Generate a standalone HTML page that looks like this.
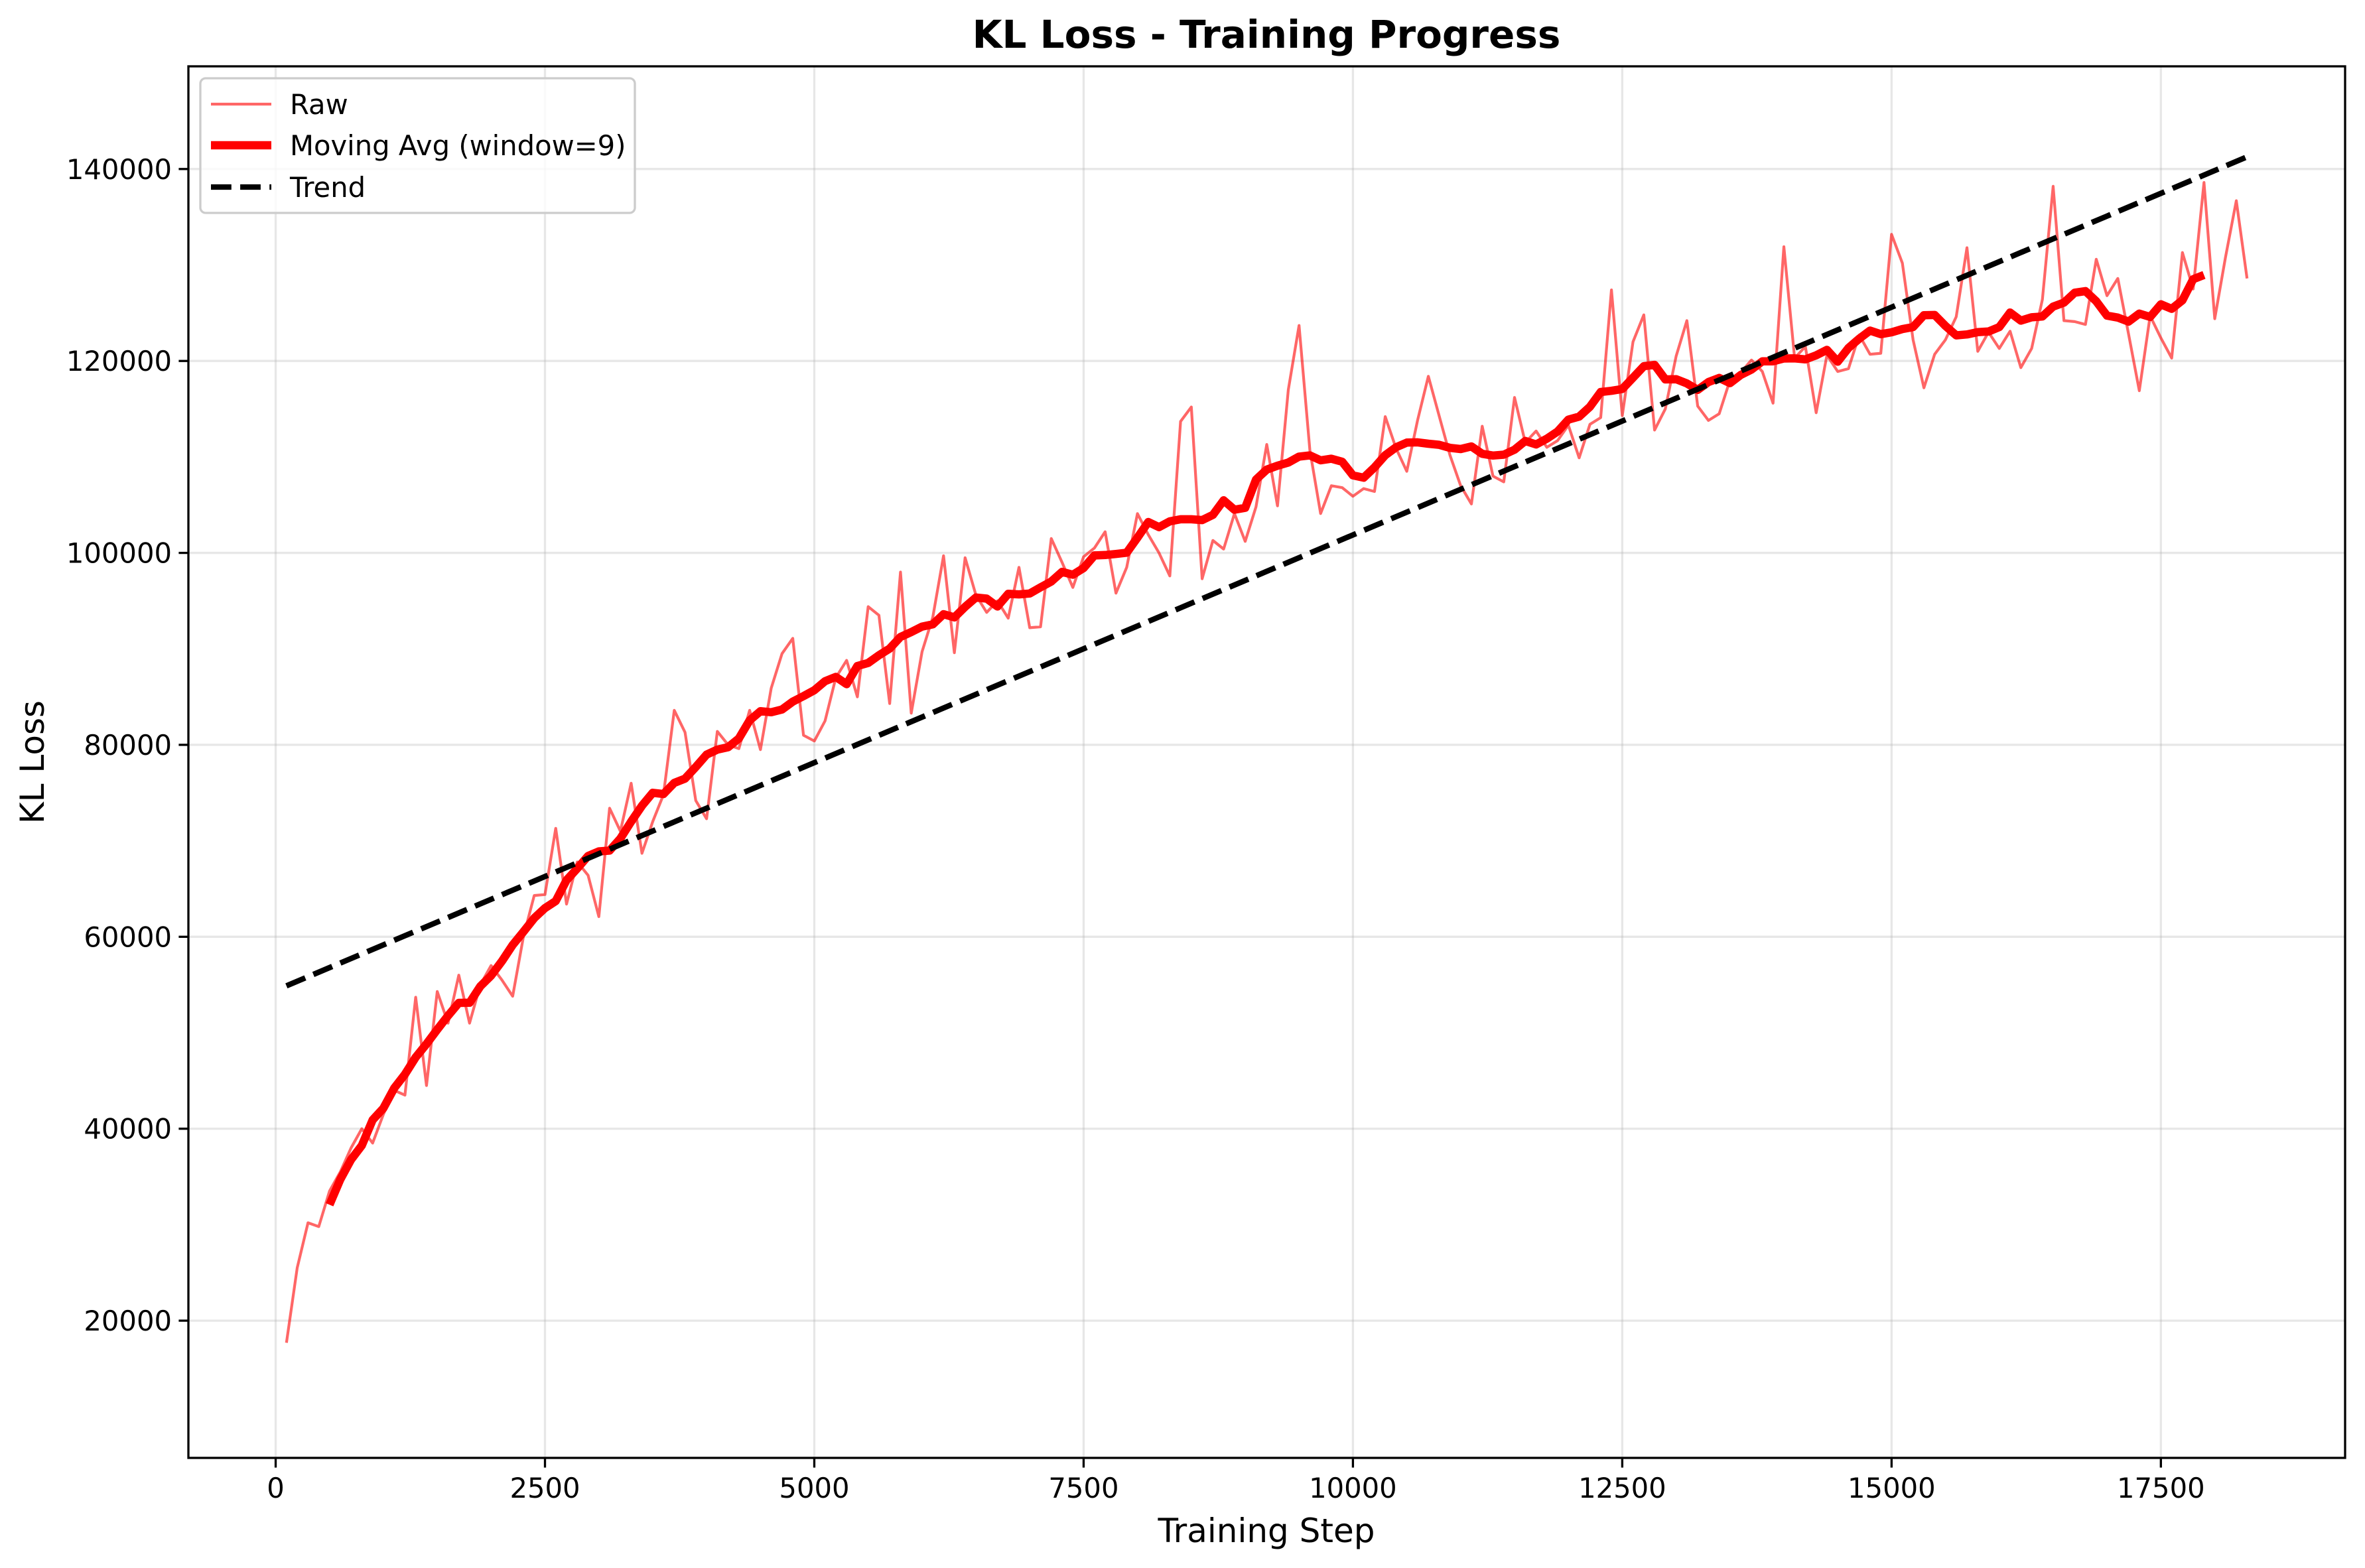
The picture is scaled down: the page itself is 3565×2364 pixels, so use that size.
<!DOCTYPE html>
<html><head><meta charset="utf-8"><style>
html,body{margin:0;padding:0;background:#fff}
svg{display:block;font-family:"DejaVu Sans","Liberation Sans",sans-serif}
</style></head><body>
<svg id="chart" width="3565" height="2364" viewBox="0 0 3565 2364" xmlns="http://www.w3.org/2000/svg">
<rect width="3565" height="2364" fill="#fff"/>
<g id="grid"></g>
<g id="ticks"></g>
<g id="series"></g>
<rect x="284" y="100" width="3251" height="2098" fill="none" stroke="#000" stroke-width="3.3"/>
<text x="1909" y="72" text-anchor="middle" font-size="58" font-weight="bold">KL Loss - Training Progress</text>
<text x="1909" y="2325" text-anchor="middle" font-size="50">Training Step</text>
<text transform="translate(66,1149) rotate(-90)" text-anchor="middle" font-size="50">KL Loss</text>
<g>
<rect x="302" y="118" width="655" height="203" rx="8" fill="#fff" fill-opacity="0.8" stroke="#ccc" stroke-width="3.3"/>
<line x1="318" y1="157" x2="409" y2="157" stroke="#ff0000" stroke-opacity="0.6" stroke-width="4.2"/>
<text x="437" y="172" font-size="41.7">Raw</text>
<line x1="318" y1="219" x2="409" y2="219" stroke="#ff0000" stroke-width="12.5"/>
<text x="437" y="234" font-size="41.7">Moving Avg (window=9)</text>
<line x1="318" y1="282" x2="409" y2="282" stroke="#000" stroke-width="8.3" stroke-dasharray="30.8 13.3"/>
<text x="437" y="297" font-size="41.7">Trend</text>
</g>
</svg>
<script>
const rawValues = [17700,25500,30200,29800,33500,35500,38000,40000,38500,41500,44000,43500,53700,44500,54300,51000,56000,51000,55000,57000,55500,53800,60000,64300,64400,71300,63400,67800,66400,62100,73400,71000,76000,68700,72000,74800,83600,81300,74200,72300,81400,80000,79600,83600,79500,85900,89500,91100,81000,80400,82500,87000,88800,85000,94400,93500,84300,98000,83300,89700,93300,99700,89600,99500,95600,93800,95000,93200,98500,92200,92300,101500,99000,96400,99600,100500,102200,95800,98500,104100,101900,100000,97600,113700,115200,97300,101300,100400,104100,101200,104800,111300,104900,117000,123700,110700,104100,107000,106800,105900,106700,106400,114200,110900,108500,113800,118400,114300,110200,107000,105100,113200,108000,107400,116200,111500,112700,111000,111700,113300,109900,113400,114100,127400,114300,122000,124800,112800,115000,120500,124200,115300,113800,114500,118000,118800,120100,118900,115600,131900,120300,121500,114600,120600,118900,119200,122700,120700,120800,133200,130200,122200,117200,120700,122200,124600,131800,121000,123000,121300,123100,119300,121300,126400,138200,124200,124100,123800,130600,126800,128600,122800,116900,124700,122400,120300,131300,127500,138600,124400,130800,136700,128600];
const stepStart = 100;
const stepSize = 100;
const xTickValues = [0,2500,5000,7500,10000,12500,15000,17500];
const yTickValues = [20000,40000,60000,80000,100000,120000,140000];
const maWindow = 9;

const NS='http://www.w3.org/2000/svg';
const L=284,R=3535,T=100,B=2198;
const xMin=-810,xMax=19210,yMin=5700,yMax=150700;
const sx=v=>L+(v-xMin)/(xMax-xMin)*(R-L);
const sy=v=>B-(v-yMin)/(yMax-yMin)*(B-T);
function mk(tag,attrs,parent){const e=document.createElementNS(NS,tag);for(const k in attrs)e.setAttribute(k,attrs[k]);parent.appendChild(e);return e;}
const grid=document.getElementById('grid'),ticks=document.getElementById('ticks'),series=document.getElementById('series');
xTickValues.forEach(v=>{
  const x=sx(v);
  const g=mk('line',{x1:x,y1:T,x2:x,y2:B,stroke:'#b0b0b0','stroke-opacity':0.3,'stroke-width':3.3},grid);
  
  
  const t=mk('line',{x1:x,y1:B,x2:x,y2:B+14.6,stroke:'#000','stroke-width':3.3},ticks);
  
  
  const l=mk('text',{x:x,y:B+60,'text-anchor':'middle','font-size':41.7},ticks);
  
  
  l.textContent=v;
});
yTickValues.forEach(v=>{
  const y=sy(v);
  const g=mk('line',{x1:L,y1:y,x2:R,y2:y,stroke:'#b0b0b0','stroke-opacity':0.3,'stroke-width':3.3},grid);
  
  
  const t=mk('line',{x1:L-14.6,y1:y,x2:L,y2:y,stroke:'#000','stroke-width':3.3},ticks);
  
  
  const l=mk('text',{x:L-25,y:y+15,'text-anchor':'end','font-size':41.7},ticks);
  
  
  l.textContent=v;
});
const steps=rawValues.map((_,i)=>stepStart+i*stepSize);
const pts=(xs,ys)=>xs.map((x,i)=>sx(x).toFixed(1)+','+sy(ys[i]).toFixed(1)).join(' ');
const raw=mk('polyline',{points:pts(steps,rawValues),fill:'none',stroke:'#ff0000','stroke-opacity':0.6,'stroke-width':4.2,'stroke-linejoin':'round'},series);


const half=Math.floor(maWindow/2),maX=[],maY=[];
for(let i=half;i<rawValues.length-half;i++){let s=0;for(let j=i-half;j<=i+half;j++)s+=rawValues[j];maX.push(steps[i]);maY.push(s/maWindow);}
const ma=mk('polyline',{points:pts(maX,maY),fill:'none',stroke:'#ff0000','stroke-width':12.5,'stroke-linejoin':'round'},series);


const n=steps.length,mx=steps.reduce((a,b)=>a+b)/n,my=rawValues.reduce((a,b)=>a+b)/n;
let num=0,den=0;steps.forEach((x,i)=>{num+=(x-mx)*(rawValues[i]-my);den+=(x-mx)*(x-mx);});
const slope=num/den,icp=my-slope*mx;
const x0=steps[0],x1=steps[n-1];
const tr=mk('line',{x1:sx(x0),y1:sy(icp+slope*x0),x2:sx(x1),y2:sy(icp+slope*x1),stroke:'#000','stroke-width':8.3,'stroke-dasharray':'30.8 13.3'},series);


</script>
</body></html>
